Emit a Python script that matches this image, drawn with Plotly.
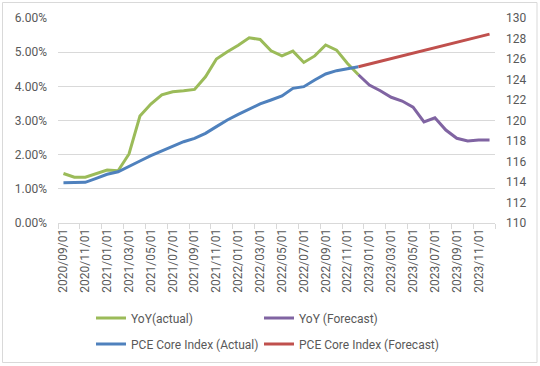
import plotly.graph_objects as go

months = ["2020/09/01","2020/10/01","2020/11/01","2020/12/01",
          "2021/01/01","2021/02/01","2021/03/01","2021/04/01","2021/05/01","2021/06/01",
          "2021/07/01","2021/08/01","2021/09/01","2021/10/01","2021/11/01","2021/12/01",
          "2022/01/01","2022/02/01","2022/03/01","2022/04/01","2022/05/01","2022/06/01",
          "2022/07/01","2022/08/01","2022/09/01","2022/10/01","2022/11/01","2022/12/01",
          "2023/01/01","2023/02/01","2023/03/01","2023/04/01","2023/05/01","2023/06/01",
          "2023/07/01","2023/08/01","2023/09/01","2023/10/01","2023/11/01","2023/12/01"]

actual_months = months[:28]
forecast_months = months[27:]

yoy_actual = [0.0145, 0.0134, 0.0134, 0.0145, 0.0155, 0.0153, 0.0202, 0.0313, 0.0348, 0.0375,
              0.0384, 0.0387, 0.0391, 0.0428, 0.0480, 0.0501, 0.0520, 0.0542, 0.0537, 0.0504,
              0.0489, 0.0503, 0.0470, 0.0489, 0.0521, 0.0506, 0.0467, 0.0434]
yoy_forecast = [0.0434, 0.0404, 0.0387, 0.0368, 0.0357, 0.0339, 0.0296, 0.0308, 0.0272,
                0.0248, 0.0240, 0.0243, 0.0243]
pce_actual = [113.93, 113.93, 113.97, 114.36, 114.75, 115.00, 115.49, 116.05, 116.57, 117.05,
              117.51, 117.93, 118.26, 118.75, 119.40, 120.05, 120.60, 121.09, 121.62, 122.00,
              122.39, 123.14, 123.30, 123.95, 124.54, 124.86, 125.09, 125.25]
pce_forecast = [125.25, 125.52, 125.78, 126.05, 126.31, 126.58, 126.84, 127.11, 127.37,
                127.64, 127.90, 128.17, 128.43]

GREEN = "#9BBB59"
PURPLE = "#8064A2"
BLUE = "#4F81BD"
RED = "#C0504D"
TXT = "#595959"
GRID = "#D9D9D9"
FONT = "Roboto"

fig = go.Figure()
fig.add_trace(go.Scatter(x=actual_months, y=yoy_actual, name="YoY(actual)", mode="lines",
                         line=dict(color=GREEN, width=3), legend="legend"))
fig.add_trace(go.Scatter(x=forecast_months, y=yoy_forecast, name="YoY (Forecast)", mode="lines",
                         line=dict(color=PURPLE, width=3), legend="legend2"))
fig.add_trace(go.Scatter(x=actual_months, y=pce_actual, name="PCE Core Index (Actual)", mode="lines",
                         line=dict(color=BLUE, width=3), yaxis="y2", legend="legend3"))
fig.add_trace(go.Scatter(x=forecast_months, y=pce_forecast, name="PCE Core Index (Forecast)", mode="lines",
                         line=dict(color=RED, width=3), yaxis="y2", legend="legend4"))

L, R, T, B = 58, 45, 18, 143
W, H = 540, 366
pw, ph = W - L - R, H - T - B

def px_x(p):
    return (p - L) / pw

def px_y(p):
    return (H - B - p) / ph

legend_common = dict(orientation="h", xanchor="left", yanchor="middle",
                     xref="container", yref="container",
                     font=dict(family=FONT, size=12, color=TXT), itemwidth=30,
                     bgcolor="rgba(0,0,0,0)")

fig.update_layout(
    width=W, height=H,
    margin=dict(l=L, r=R, t=T, b=B, autoexpand=False),
    paper_bgcolor="white", plot_bgcolor="white",
    font=dict(family=FONT, size=12, color=TXT),
    showlegend=True,
    xaxis=dict(type="category", categoryorder="array", categoryarray=months,
               range=[-0.5, 39.5], tickson="boundaries", dtick=2, tick0=0,
               ticks="outside", ticklen=5, tickcolor=GRID, tickwidth=1,
               showline=True, linecolor=GRID, linewidth=1, showgrid=False,
               tickangle=-90, tickfont=dict(family=FONT, size=12, color=TXT),
               zeroline=False, automargin=False),
    yaxis=dict(range=[0, 0.06], dtick=0.01, tickformat=".2%", showgrid=True,
               gridcolor=GRID, gridwidth=1, zeroline=False, showline=False,
               ticks="", ticklabelstandoff=10, automargin=False,
               tickfont=dict(family=FONT, size=12, color=TXT)),
    yaxis2=dict(range=[110, 130], dtick=2, overlaying="y", side="right", showgrid=False,
                zeroline=False, showline=False, ticks="", ticklabelstandoff=10,
                automargin=False, tickfont=dict(family=FONT, size=12, color=TXT)),
    legend=dict(x=91 / W, y=1 - 318 / H, **legend_common),
    legend2=dict(x=259 / W, y=1 - 318 / H, **legend_common),
    legend3=dict(x=91 / W, y=1 - 344 / H, **legend_common),
    legend4=dict(x=259 / W, y=1 - 344 / H, **legend_common),
    shapes=[dict(type="rect", xref="paper", yref="paper",
                 x0=px_x(2.5), x1=px_x(537), y0=px_y(362.5), y1=px_y(2.5),
                 line=dict(color=GRID, width=1), fillcolor="rgba(0,0,0,0)", layer="below")],
)

fig.write_html("out.html", config={"displayModeBar": False},
               post_script="document.body.style.margin='0';document.body.style.overflow='hidden';")
